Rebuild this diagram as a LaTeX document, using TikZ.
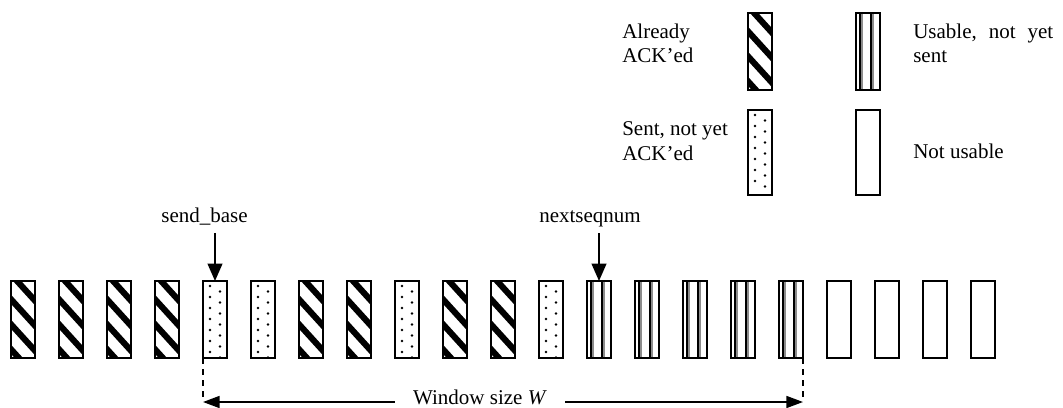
\documentclass[tikz,border=0pt]{standalone}
\usepackage{fontspec}
\setmainfont{Liberation Serif}
\usetikzlibrary{arrows.meta,calc}
\begin{document}
\begin{tikzpicture}[x=0.75pt,y=-0.75pt,
  font=\fontsize{15.75}{18}\selectfont,
  frame/.style={draw, line width=1.5pt, inner sep=0pt, outer sep=0pt,
    minimum width=18pt, minimum height=57.75pt, anchor=north west},
  tall/.style={minimum height=63.75pt},
  hatched/.style={frame, path picture={
    \foreach \k in {-2,...,4}
      \draw[line width=4.6pt]
        ($(path picture bounding box.north west)+(-3,{\k*25-10})$) -- ++(40,44);}},
  dotted/.style={frame, path picture={
    \foreach \j in {0,...,6} {
      \fill ($(path picture bounding box.north west)+(7,{5+11*\j})$) circle (1pt);
      \fill ($(path picture bounding box.north west)+(17,{10.5+11*\j})$) circle (1pt);
    }}},
  striped/.style={frame, path picture={
    \foreach \o in {4,15}
      \draw[line width=0.9pt]
        ($(path picture bounding box.north west)+(\o,-5)$) -- ++(0,120);
    \foreach \o in {6,17}
      \draw[line width=0.9pt, black!45]
        ($(path picture bounding box.north west)+(\o,-5)$) -- ++(0,120);}},
  empty/.style={frame},
  lbl/.style={inner sep=0pt, anchor=base},
  lgd/.style={inner sep=0pt, anchor=base west},
  ptr/.style={line width=1.5pt, -{Triangle[length=13pt,width=11pt]}},
  span/.style={line width=1.3pt, -{Triangle[length=12.5pt,width=9pt]}},
  guide/.style={line width=1.3pt, dash pattern=on 4.5pt off 3.75pt}]

% canvas
\path[use as bounding box, fill=white] (0,0) rectangle (1063,407);

% legend
\node[hatched] (lh) at (748,13) {};
\node[striped] (lv) at (856,13) {};
\node[dotted, tall] (ld) at (748,110) {};
\node[empty, tall] (le) at (856,110) {};
\node[lgd] (t1a) at (622,38) {Already};
\node[lgd] (t1b) at (622,62) {ACK'ed};
\node[lgd] (t2a) at (913,38) {Usable,\hspace{9pt}not\hspace{9pt}yet};
\node[lgd] (t2b) at (913,62) {sent};
\node[lgd] (t3a) at (622,135) {Sent, not yet};
\node[lgd] (t3b) at (622,160) {ACK'ed};
\node[lgd] (t4a) at (913,158) {Not usable};

% sequence-number space
\node[hatched] (b1)  at (11,281)  {};
\node[hatched] (b2)  at (59,281)  {};
\node[hatched] (b3)  at (107,281) {};
\node[hatched] (b4)  at (155,281) {};
\node[dotted]  (b5)  at (203,281) {};
\node[dotted]  (b6)  at (251,281) {};
\node[hatched] (b7)  at (299,281) {};
\node[hatched] (b8)  at (347,281) {};
\node[dotted]  (b9)  at (395,281) {};
\node[hatched] (b10) at (443,281) {};
\node[hatched] (b11) at (491,281) {};
\node[dotted]  (b12) at (539,281) {};
\node[striped] (b13) at (587,281) {};
\node[striped] (b14) at (635,281) {};
\node[striped] (b15) at (683,281) {};
\node[striped] (b16) at (731,281) {};
\node[striped] (b17) at (779,281) {};
\node[empty]   (b18) at (827,281) {};
\node[empty]   (b19) at (875,281) {};
\node[empty]   (b20) at (923,281) {};
\node[empty]   (b21) at (971,281) {};

% pointers
\node[lbl] (sb) at (204.5,222) {send\_base};
\node[lbl] (nq) at (590,222) {nextseqnum};
\draw[ptr, shorten <=6pt] (b5.north |- sb.south) -- (b5.north);
\draw[ptr, shorten <=5pt] (b13.north |- nq.south) -- (b13.north);

% window
\coordinate (wl) at (203,402);
\coordinate (wr) at (803,402);
\draw[guide] (b5.south west) -- (wl);
\draw[guide] (b17.south east) -- (wr);
\node[lbl, inner xsep=13.5pt] (win) at (480,404) {Window size \textit{W}};
\draw[span] (wl -| win.west) -- (wl);
\draw[span] (wr -| win.east) -- (wr);
\end{tikzpicture}
\end{document}
